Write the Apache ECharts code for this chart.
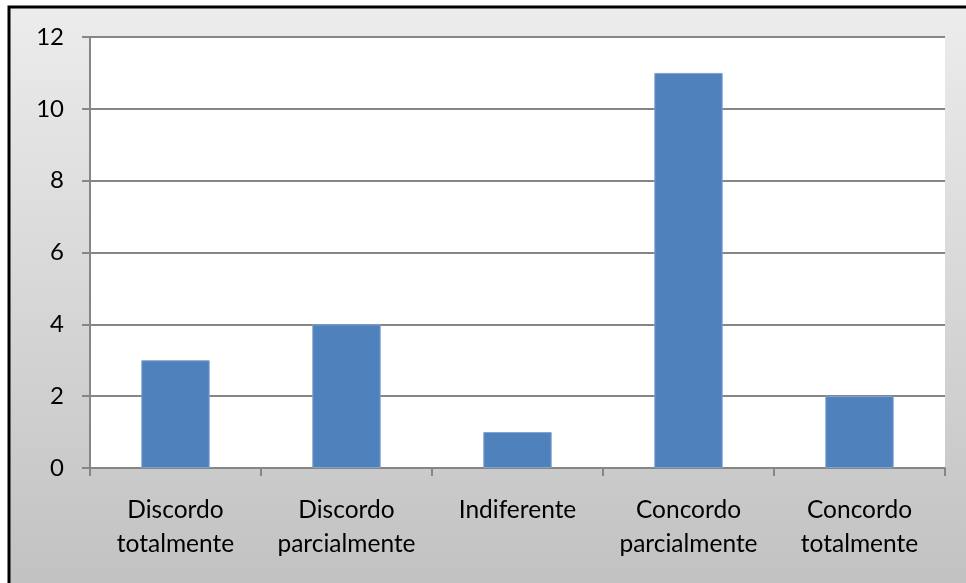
<!DOCTYPE html>
<html>
<head>
<meta charset="utf-8">
<script src="https://cdn.jsdelivr.net/npm/echarts@6/dist/echarts.min.js"></script>
<style>
  html, body { margin: 0; padding: 0; background: #fff; }
  #chart { width: 966px; height: 583px; }
</style>
</head>
<body>
<div id="chart"></div>
<script>
// Survey answers on a five-point agreement scale
const categories = [
  'Discordo\ntotalmente',
  'Discordo\nparcialmente',
  'Indiferente',
  'Concordo\nparcialmente',
  'Concordo\ntotalmente'
];
const counts = [3, 4, 1, 11, 2];
const yTicks = { min: 0, max: 12, step: 2 };

const FONT = 'Lato, "Open Sans", sans-serif';
const GRID_GRAY = '#868686';

const chart = echarts.init(document.getElementById('chart'), null, { renderer: 'canvas' });

chart.setOption({
  backgroundColor: '#ffffff',
  animation: false,
  graphic: [{
    type: 'rect',
    z: -10,
    silent: true,
    shape: { x: 9, y: 7, width: 1000, height: 1000 },
    style: {
      fill: new echarts.graphic.LinearGradient(0, 7, 0, 583, [
        { offset: 0, color: '#ececec' },
        { offset: 1, color: '#c2c2c2' }
      ], true),
      stroke: '#000000',
      lineWidth: 3
    }
  }],
  grid: {
    left: 90,
    right: 21,
    top: 37,
    bottom: 115,
    show: true,
    backgroundColor: '#ffffff',
    borderWidth: 0
  },
  xAxis: {
    type: 'category',
    data: categories,
    axisLine: { show: true, lineStyle: { color: GRID_GRAY, width: 2 } },
    axisTick: { show: true, alignWithLabel: false, length: 8, lineStyle: { color: GRID_GRAY, width: 2 } },
    axisLabel: {
      color: '#000',
      fontFamily: FONT,
      fontSize: 24.5,
      lineHeight: 34,
      margin: 25,
      interval: 0
    }
  },
  yAxis: {
    type: 'value',
    min: yTicks.min,
    max: yTicks.max,
    interval: yTicks.step,
    axisLine: { show: true, lineStyle: { color: GRID_GRAY, width: 2 } },
    axisTick: { show: true, length: 8, lineStyle: { color: GRID_GRAY, width: 2 } },
    splitLine: { show: true, lineStyle: { color: GRID_GRAY, width: 2 } },
    axisLabel: {
      color: '#000',
      fontFamily: FONT,
      fontSize: 24,
      margin: 26
    }
  },
  series: [{
    type: 'bar',
    data: counts,
    barWidth: '40%',
    itemStyle: {
      color: '#4f81bd',
      borderColor: '#7ea3d1',
      borderWidth: 1
    }
  }]
});
</script>
</body>
</html>
